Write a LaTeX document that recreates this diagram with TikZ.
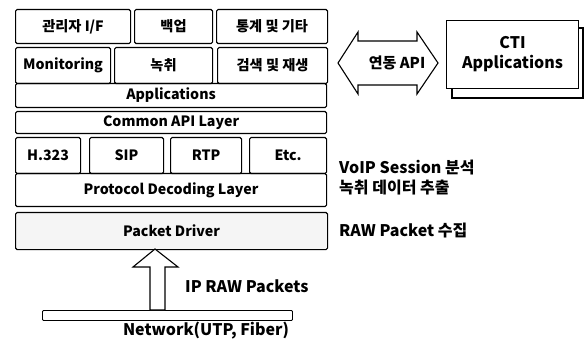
\documentclass[tikz,border=0pt]{standalone}
\usepackage{fontspec}
\setmainfont{Noto Sans CJK KR}
\begin{document}
\begin{tikzpicture}[x=1pt,y=-1pt,
  box/.style={draw,line width=1.1pt,rounded corners=1.5pt,inner sep=0pt,anchor=north west,font=\fontsize{14.2}{16}\selectfont\bfseries},
  lbl/.style={inner sep=0pt,font=\fontsize{16}{18}\selectfont\bfseries},
  blk/.style={draw,line width=1.1pt,fill=white,line join=miter}]
\useasboundingbox[fill=white] (0,0) rectangle (585,344);
% top row
\node[box,minimum width=115pt,minimum height=34pt] (adm) at (15,9) {관리자 I/F};
\node[box,minimum width=78pt,minimum height=34pt] (bak) at (134,9) {백업};
\node[box,minimum width=111pt,minimum height=34pt] (stat) at (216,9) {통계 및 기타};
% second row
\node[box,minimum width=95pt,minimum height=36pt] (mon) at (15,47) {Monitoring};
\node[box,minimum width=98pt,minimum height=36pt] (rec) at (114,47) {녹취};
\node[box,minimum width=110pt,minimum height=36pt] (srch) at (217,47) {검색 및 재생};
\node[box,minimum width=311pt,minimum height=24pt] (apps) at (15,83) {Applications};
\node[box,minimum width=311pt,minimum height=22pt] (capi) at (15,111) {Common API Layer};
% protocols
\node[box,minimum width=65pt,minimum height=36pt] (h323) at (15,137) {H.323};
\node[box,minimum width=74pt,minimum height=36pt] (sip) at (89,137) {SIP};
\node[box,minimum width=71pt,minimum height=36pt] (rtp) at (170,137) {RTP};
\node[box,minimum width=77pt,minimum height=36pt] (etc) at (249,137) {Etc.};
\node[box,minimum width=311pt,minimum height=33pt] (pdl) at (15,173) {Protocol Decoding Layer};
\node[box,minimum width=312pt,minimum height=37pt,fill=gray!8] (pd) at (15,212) {Packet Driver};
% network
\node[box,minimum width=250pt,minimum height=10pt,line width=0.9pt,rounded corners=1pt] (net) at (42,310) {};
\node[lbl] (nettxt) at (206,331) {Network(UTP, Fiber)};
% up arrow
\coordinate (tip) at (155,249);
\draw[blk] (tip) -- (178,267) -- (165,267) -- (165,310) -- (150,310) -- (150,267) -- (133,267) -- cycle;
\node[lbl,anchor=west] (iprw) at (185,286) {IP RAW Packets};
% right labels
\node[lbl,anchor=west] (voip) at (339,168) {VoIP Session 분석};
\node[lbl,anchor=west] (extr) at (339,188) {녹취 데이터 추출};
\node[lbl,anchor=west] (rawp) at (339,231) {RAW Packet 수집};
% double arrow
\draw[blk] (338,63) -- (358,32) -- (358,41) -- (417,41) -- (417,32) -- (438,63) -- (417,94) -- (417,85) -- (358,85) -- (358,94) -- cycle;
\node[lbl,font=\fontsize{15}{17}\selectfont\bfseries] (link) at (397,63) {연동 API};
% CTI box with shadow
\draw[line width=1.1pt] (452,28) rectangle (583,98);
\node[box,fill=white,rounded corners=0pt,minimum width=132pt,minimum height=68pt,align=center,font=\fontsize{16}{20}\selectfont\bfseries] (cti) at (446,20) {CTI\\Applications};
\end{tikzpicture}
\end{document}
